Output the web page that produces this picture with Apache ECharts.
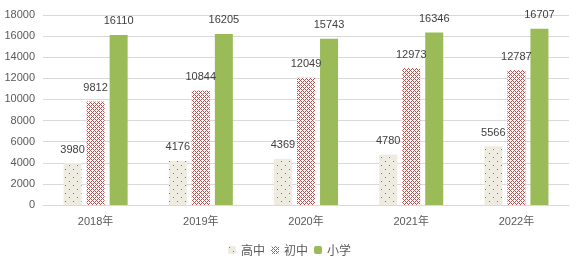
<!DOCTYPE html>
<html>
<head>
<meta charset="utf-8">
<script src="https://cdn.jsdelivr.net/npm/echarts@6/dist/echarts.min.js"></script>
<style>html,body{margin:0;padding:0;background:#fff;}#c{width:579px;height:266px;}</style>
</head>
<body>
<div id="c"></div>
<script>
const categories = ['2018年', '2019年', '2020年', '2021年', '2022年'];
const seriesNames = ['高中', '初中', '小学'];
const highSchool = [3980, 4176, 4369, 4780, 5566];
const middleSchool = [9812, 10844, 12049, 12973, 12787];
const primarySchool = [16110, 16205, 15743, 16346, 16707];
const yTicks = [0, 2000, 4000, 6000, 8000, 10000, 12000, 14000, 16000, 18000];

function dotPattern() {
  const c = document.createElement('canvas');
  c.width = 8; c.height = 8;
  const g = c.getContext('2d');
  g.fillStyle = '#EEECE1'; g.fillRect(0, 0, 8, 8);
  g.fillStyle = '#6f7b8c';
  g.fillRect(1, 1, 1, 1);
  g.fillRect(5, 5, 1, 1);
  return c;
}
function checkPattern() {
  const c = document.createElement('canvas');
  c.width = 4; c.height = 4;
  const g = c.getContext('2d');
  g.fillStyle = '#ffffff'; g.fillRect(0, 0, 4, 4);
  g.fillStyle = '#C0504D';
  for (let x = 0; x < 4; x++) for (let y = 0; y < 4; y++) {
    if ((x + y) % 4 === 0 || ((x - y) % 4 + 4) % 4 === 0) g.fillRect(x, y, 1, 1);
  }
  return c;
}

const chart = echarts.init(document.getElementById('c'), null, {renderer: 'canvas'});
const numFont = 'Liberation Sans, Arial, sans-serif';
const labelCfg = {show: true, position: 'top', distance: 8, color: '#404040', fontSize: 11, fontFamily: numFont};
chart.setOption({
  animation: false,
  grid: {left: 43, right: 10, top: 15, bottom: 61},
  legend: {
    data: seriesNames, bottom: 5, left: 'center', itemWidth: 8, itemHeight: 8, itemGap: 6,
    textStyle: {fontSize: 12, color: '#595959', fontFamily: 'Noto Sans CJK SC'}
  },
  xAxis: {
    type: 'category', data: categories,
    axisLine: {lineStyle: {color: '#d9d9d9', width: 1}},
    axisTick: {show: false},
    axisLabel: {color: '#595959', fontSize: 11, margin: 11, fontFamily: 'Liberation Sans, Noto Sans CJK SC'}
  },
  yAxis: {
    type: 'value', min: yTicks[0], max: yTicks[yTicks.length - 1], interval: 2000,
    axisLine: {show: false}, axisTick: {show: false},
    splitLine: {lineStyle: {color: '#d9d9d9', width: 1}},
    axisLabel: {color: '#595959', fontSize: 11, margin: 8, fontFamily: numFont, formatter: v => String(v)}
  },
  series: [
    {name: seriesNames[0], type: 'bar', data: highSchool, barWidth: 18, barGap: '28%',
     itemStyle: {color: {image: dotPattern(), repeat: 'repeat'}}, label: labelCfg},
    {name: seriesNames[1], type: 'bar', data: middleSchool, barWidth: 18, barGap: '28%',
     itemStyle: {color: {image: checkPattern(), repeat: 'repeat'}}, label: labelCfg},
    {name: seriesNames[2], type: 'bar', data: primarySchool, barWidth: 18, barGap: '28%',
     itemStyle: {color: '#9BBB59'}, label: labelCfg}
  ]
});
</script>
</body>
</html>
